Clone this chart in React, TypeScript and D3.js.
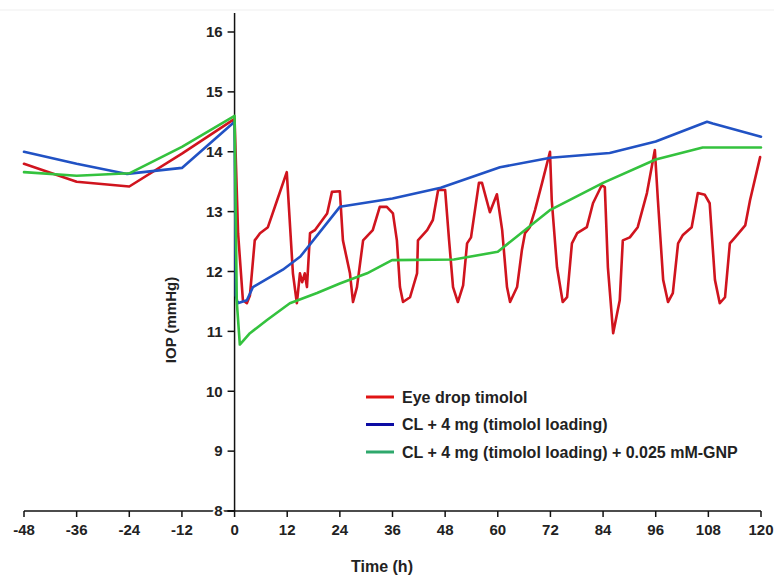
import React from 'react';
import * as d3 from 'd3';

// hours from timolol administration, IOP in mmHg
const eyeDrop: [number, number][] = [
  [-48, 13.8], [-36, 13.5], [-24, 13.42], [-12, 13.97], [0, 14.55],
  [0.8, 12.64], [1.9, 11.52], [2.8, 11.47], [3.5, 11.6], [4.6, 12.52], [5.8, 12.64], [7.6, 12.74],
  [9.7, 13.19], [11.9, 13.66], [13.3, 11.97], [14.2, 11.47], [14.9, 11.97], [15.4, 11.82],
  [16.0, 11.97], [16.5, 11.74], [17.2, 12.64], [18.3, 12.69], [21.1, 12.97], [22.2, 13.33],
  [24.0, 13.34], [24.7, 12.52], [26.3, 11.97], [27.0, 11.49], [27.9, 11.74], [29.3, 12.52],
  [31.5, 12.69], [33.1, 13.08], [34.7, 13.08], [36.1, 12.97], [37.0, 12.52], [37.7, 11.74],
  [38.4, 11.49], [40.0, 11.57], [41.6, 11.97], [41.8, 12.52], [43.9, 12.69], [45.2, 12.86],
  [46.4, 13.36], [48.0, 13.36], [48.9, 12.52], [49.8, 11.74], [50.9, 11.49], [52.1, 11.77],
  [53.0, 12.47], [53.9, 12.57], [55.7, 13.48], [56.4, 13.48], [58.2, 12.99], [59.8, 13.29],
  [61.0, 12.69], [62.1, 11.74], [62.8, 11.49], [64.4, 11.74], [65.5, 12.36], [66.2, 12.64],
  [67.3, 12.74], [68.5, 13.03], [70.1, 13.48], [71.9, 14.0], [72.3, 13.19], [73.5, 12.07],
  [74.8, 11.49], [75.8, 11.57], [76.9, 12.47], [78.1, 12.64], [80.3, 12.74], [81.7, 13.14],
  [83.7, 13.44], [84.4, 13.41], [85.1, 12.07], [86.3, 10.97], [87.8, 11.52], [88.5, 12.52],
  [90.1, 12.57], [91.9, 12.74], [94.0, 13.31], [95.8, 14.03], [96.5, 13.19], [97.7, 11.86],
  [98.8, 11.49], [99.9, 11.64], [101.1, 12.47], [102.2, 12.61], [104.2, 12.74], [105.6, 13.31],
  [107.2, 13.28], [108.3, 13.14], [109.5, 11.86], [110.6, 11.47], [111.8, 11.57], [112.9, 12.47],
  [114.1, 12.57], [116.4, 12.77], [117.5, 13.19], [119.8, 13.91],
];

const clLoading: [number, number][] = [
  [-48, 14.0], [-36, 13.8], [-24.5, 13.63], [-12, 13.73], [0, 14.5],
  [0.3, 11.6], [0.7, 11.47], [2.8, 11.52], [4.2, 11.74], [11, 12.03], [15, 12.25], [24, 13.08],
  [36, 13.22], [47, 13.4], [60.5, 13.74], [72, 13.9], [85.5, 13.98], [96, 14.17], [107.7, 14.5],
  [109, 14.47], [120, 14.25],
];

const clGnp: [number, number][] = [
  [-48, 13.66], [-36, 13.6], [-24, 13.64], [-12, 14.08], [0, 14.6],
  [0.5, 11.5], [1.2, 10.78], [3.5, 10.97], [7.4, 11.19], [12.6, 11.47], [18.8, 11.64], [24, 11.8],
  [30.2, 11.97], [35.9, 12.19], [50, 12.2], [60, 12.33], [72, 13.03], [84, 13.48], [96, 13.87],
  [106.7, 14.07], [120, 14.07],
];

const xTicks = [-48, -36, -24, -12, 0, 12, 24, 36, 48, 60, 72, 84, 96, 108, 120];
const yTicks = [8, 9, 10, 11, 12, 13, 14, 15, 16];

const series = [
  { name: 'Eye drop timolol', data: eyeDrop, color: '#d0141e', legend: '#e01414' },
  { name: 'CL + 4 mg (timolol loading)', data: clLoading, color: '#2152c4', legend: '#0c0ca4' },
  { name: 'CL + 4 mg (timolol loading) + 0.025 mM-GNP', data: clGnp, color: '#34c23e', legend: '#2ea86c' },
];

const font = 'Arial, "Liberation Sans", sans-serif';

export default function App() {
  const width = 774;
  const height = 577;
  const x = d3.scaleLinear().domain([-48, 120]).range([24, 761]);
  const y = d3.scaleLinear().domain([8, 16]).range([511, 32]);
  const x0 = x(0);
  const line = d3.line<[number, number]>().x((d) => x(d[0])).y((d) => y(d[1]));

  return (
    <svg width={width} height={height} style={{ position: 'absolute', left: 0, top: 0, background: '#fff' }} fontFamily={font}>
      <line x1={0} x2={width} y1={10} y2={10} stroke="#efefef" strokeWidth={1} />

      {/* x axis */}
      <line x1={x(-48)} x2={x(120)} y1={y(8)} y2={y(8)} stroke="#111" strokeWidth={1.5} />
      {xTicks.map((t) => (
        <g key={t} transform={`translate(${x(t)}, ${y(8)})`}>
          <line y1={0} y2={6} stroke="#111" strokeWidth={1.5} />
          <text y={24} textAnchor="middle" fontSize={15} fontWeight="bold" fill="#222">{t}</text>
        </g>
      ))}

      {/* y axis */}
      <line x1={x0} x2={x0} y1={13} y2={y(8)} stroke="#111" strokeWidth={1.5} />
      {yTicks.map((v) => (
        <g key={v} transform={`translate(${x0}, ${y(v)})`}>
          <line x1={-7} x2={0} stroke="#111" strokeWidth={1.5} />
          <text x={-12} dy="0.35em" textAnchor="end" fontSize={15} fontWeight="bold" fill="#222"
            stroke={v === 8 ? '#fff' : 'none'} strokeWidth={4} paintOrder="stroke">{v}</text>
        </g>
      ))}
      <line x1={x0 - 7} x2={x0} y1={y(8)} y2={y(8)} stroke="#111" strokeWidth={1.5} />

      <text transform={`translate(176, 320) rotate(-90)`} textAnchor="middle" fontSize={15} fontWeight="bold" fill="#222">IOP (mmHg)</text>
      <text x={382} y={572} textAnchor="middle" fontSize={16} fontWeight="bold" fill="#222">Time (h)</text>

      {series.map((s) => (
        <path key={s.name} d={line(s.data) ?? ''} fill="none" stroke={s.color} strokeWidth={2.6}
          strokeLinejoin="round" strokeLinecap="round" />
      ))}

      {/* legend */}
      {series.map((s, i) => (
        <g key={s.name} transform={`translate(366, ${397 + i * 27.5})`}>
          <line x1={0} x2={28} stroke={s.legend} strokeWidth={3} />
          <text x={36} dy="0.35em" fontSize={16} fontWeight="bold" fill="#222">{s.name}</text>
        </g>
      ))}
    </svg>
  );
}
